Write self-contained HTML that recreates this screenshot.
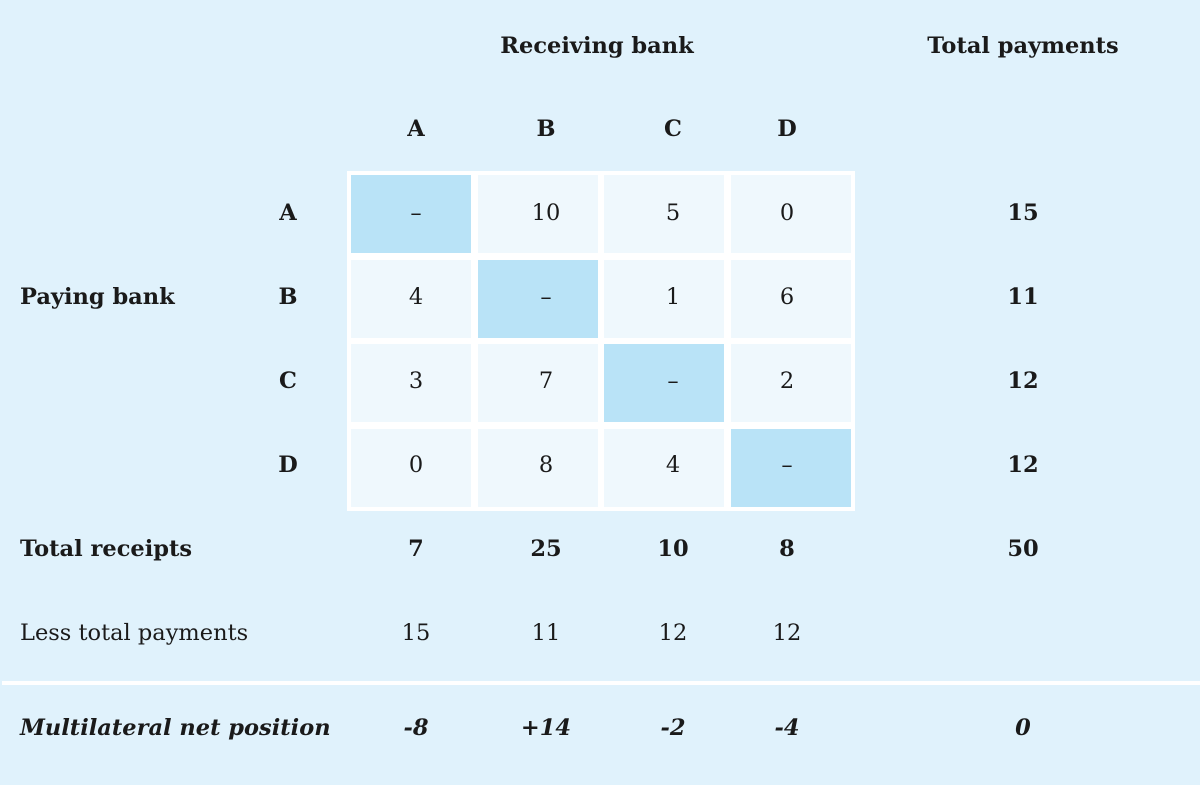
<!DOCTYPE html><html><head><style>
body{margin:0;width:1200px;height:785px;background:#e0f2fc;position:relative;overflow:hidden;font-family:"DejaVu Serif","Liberation Serif",serif;color:#1a1a1a}
.t{position:absolute;transform:translate(-50%,-50%);white-space:nowrap;font-size:22.5px}
.l{position:absolute;transform:translateY(-50%);white-space:nowrap;font-size:22.5px}
b{font-weight:bold}
.c{position:absolute;background:#eff8fd}
.d{background:#b9e3f7}
</style></head><body>
<div style="position:absolute;left:347px;top:171px;width:508px;height:340px;background:#fff"></div>
<div style="position:absolute;left:2px;top:681px;width:1198px;height:4px;background:#fff"></div>
<div class="c d" style="left:351px;top:175px;width:120px;height:78px"></div>
<div class="c" style="left:478px;top:175px;width:120px;height:78px"></div>
<div class="c" style="left:604px;top:175px;width:120px;height:78px"></div>
<div class="c" style="left:731px;top:175px;width:120px;height:78px"></div>
<div class="c" style="left:351px;top:260px;width:120px;height:78px"></div>
<div class="c d" style="left:478px;top:260px;width:120px;height:78px"></div>
<div class="c" style="left:604px;top:260px;width:120px;height:78px"></div>
<div class="c" style="left:731px;top:260px;width:120px;height:78px"></div>
<div class="c" style="left:351px;top:344px;width:120px;height:78px"></div>
<div class="c" style="left:478px;top:344px;width:120px;height:78px"></div>
<div class="c d" style="left:604px;top:344px;width:120px;height:78px"></div>
<div class="c" style="left:731px;top:344px;width:120px;height:78px"></div>
<div class="c" style="left:351px;top:429px;width:120px;height:78px"></div>
<div class="c" style="left:478px;top:429px;width:120px;height:78px"></div>
<div class="c" style="left:604px;top:429px;width:120px;height:78px"></div>
<div class="c d" style="left:731px;top:429px;width:120px;height:78px"></div>

<div class="t" style="left:597px;top:46px"><b>Receiving bank</b></div>
<div class="t" style="left:1023px;top:46px"><b>Total payments</b></div>
<div class="t" style="left:416px;top:129px"><b>A</b></div>
<div class="t" style="left:546px;top:129px"><b>B</b></div>
<div class="t" style="left:673px;top:129px"><b>C</b></div>
<div class="t" style="left:787px;top:129px"><b>D</b></div>

<div class="t" style="left:288px;top:213px"><b>A</b></div>
<div class="t" style="left:288px;top:297px"><b>B</b></div>
<div class="t" style="left:288px;top:381px"><b>C</b></div>
<div class="t" style="left:288px;top:465px"><b>D</b></div>
<div class="l" style="left:20px;top:297px"><b>Paying bank</b></div>

<div class="t" style="left:416px;top:213px">–</div><div class="t" style="left:546px;top:213px">10</div><div class="t" style="left:673px;top:213px">5</div><div class="t" style="left:787px;top:213px">0</div><div class="t" style="left:1023px;top:213px"><b>15</b></div>
<div class="t" style="left:416px;top:297px">4</div><div class="t" style="left:546px;top:297px">–</div><div class="t" style="left:673px;top:297px">1</div><div class="t" style="left:787px;top:297px">6</div><div class="t" style="left:1023px;top:297px"><b>11</b></div>
<div class="t" style="left:416px;top:381px">3</div><div class="t" style="left:546px;top:381px">7</div><div class="t" style="left:673px;top:381px">–</div><div class="t" style="left:787px;top:381px">2</div><div class="t" style="left:1023px;top:381px"><b>12</b></div>
<div class="t" style="left:416px;top:465px">0</div><div class="t" style="left:546px;top:465px">8</div><div class="t" style="left:673px;top:465px">4</div><div class="t" style="left:787px;top:465px">–</div><div class="t" style="left:1023px;top:465px"><b>12</b></div>

<div class="l" style="left:20px;top:549px"><b>Total receipts</b></div>
<div class="t" style="left:416px;top:549px"><b>7</b></div><div class="t" style="left:546px;top:549px"><b>25</b></div><div class="t" style="left:673px;top:549px"><b>10</b></div><div class="t" style="left:787px;top:549px"><b>8</b></div><div class="t" style="left:1023px;top:549px"><b>50</b></div>

<div class="l" style="left:20px;top:633px">Less total payments</div>
<div class="t" style="left:416px;top:633px">15</div><div class="t" style="left:546px;top:633px">11</div><div class="t" style="left:673px;top:633px">12</div><div class="t" style="left:787px;top:633px">12</div>

<div class="l" style="left:20px;top:728px"><b><i>Multilateral net position</i></b></div>
<div class="t" style="left:416px;top:728px"><b><i>-8</i></b></div><div class="t" style="left:546px;top:728px"><b><i>+14</i></b></div><div class="t" style="left:673px;top:728px"><b><i>-2</i></b></div><div class="t" style="left:787px;top:728px"><b><i>-4</i></b></div><div class="t" style="left:1023px;top:728px"><b><i>0</i></b></div>
</body></html>
